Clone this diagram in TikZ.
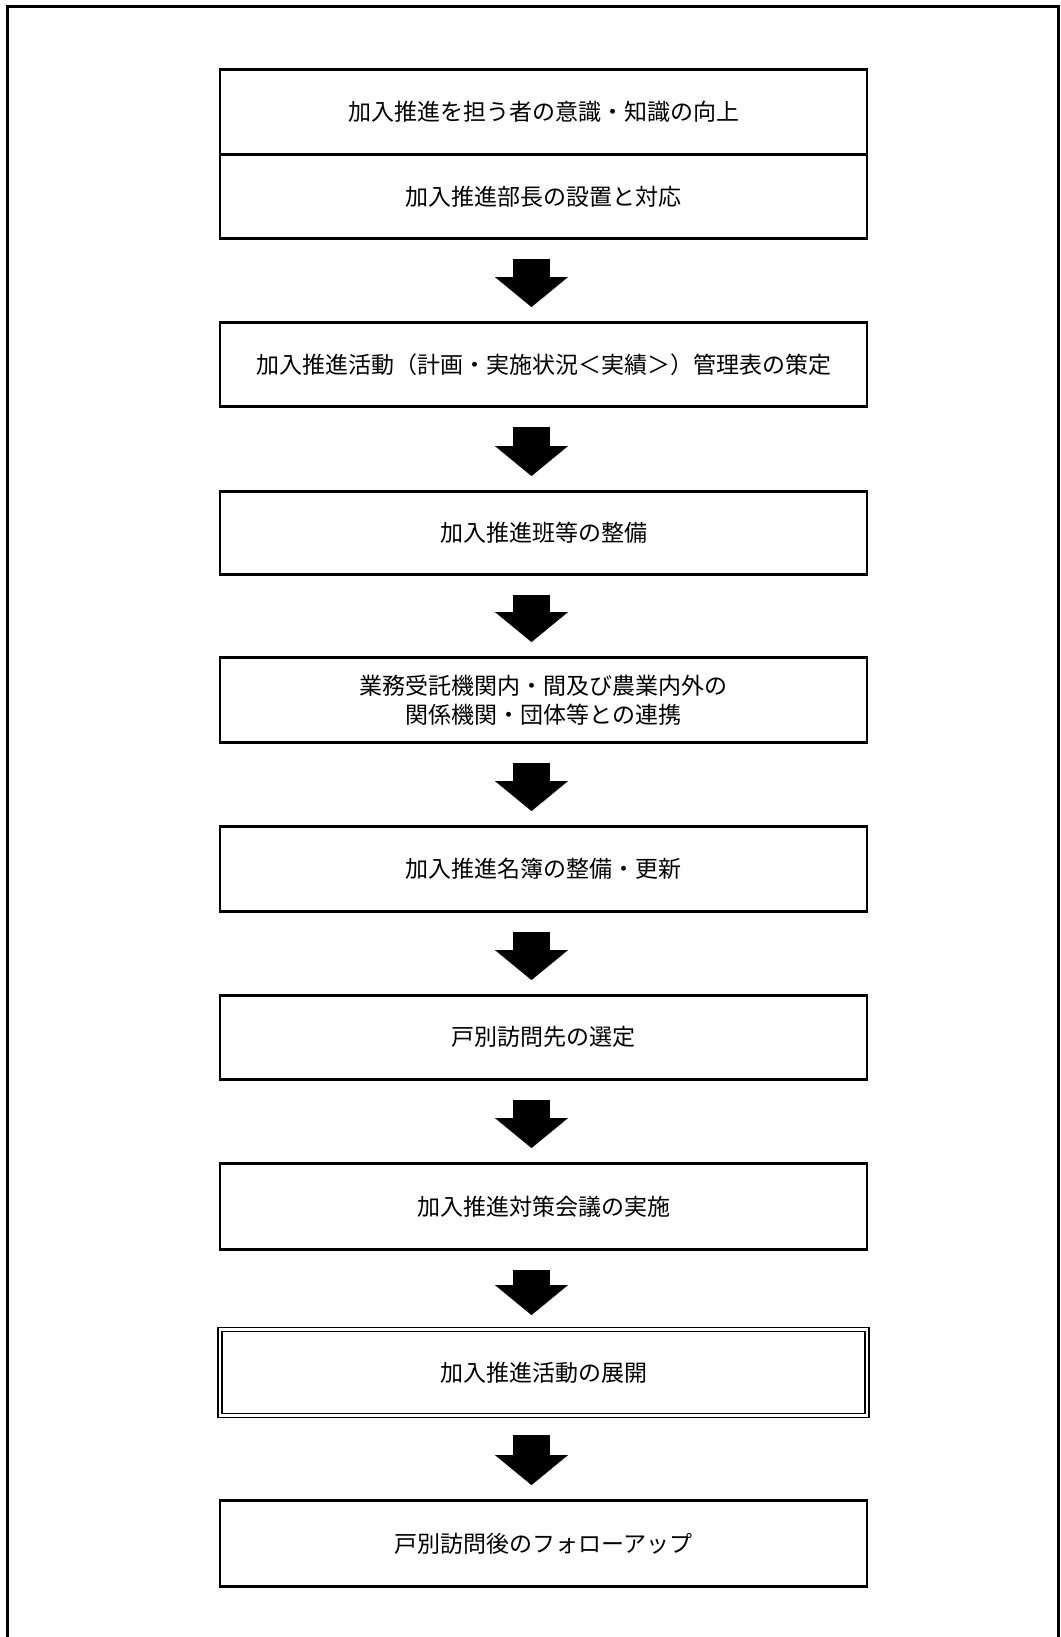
\documentclass[tikz,border=0pt]{standalone}
\usepackage{fontspec}
\newfontfamily\jp{Noto Sans CJK JP}
\usetikzlibrary{arrows.meta}
\begin{document}
\begin{tikzpicture}[x=1pt,y=-1pt,
  stepbox/.style={draw, line width=2.6pt, minimum width=647pt, inner sep=0pt,
    font=\jp\fontsize{23}{29}\selectfont, align=center, anchor=north},
  dblbox/.style={stepbox, line width=1.4pt, double, double distance=2.5pt},
  bigarrow/.style={line width=37pt, -{Triangle[width=73pt,length=30pt,line width=0.1pt]}}]
\useasboundingbox (0,0) rectangle (1060,1637);
\draw[line width=2.6pt] (7.5,1637) -- (7.5,6.5) -- (1058.5,6.5) -- (1058.5,1637);
\node[stepbox, minimum height=85pt] (b1) at (543.5,68) {加入推進を担う者の意識・知識の向上};
\node[stepbox, minimum height=84pt] (b2) at (543.5,153) {加入推進部長の設置と対応};
\node[stepbox, minimum height=84pt] (b3) at (543.5,321) {加入推進活動（計画・実施状況＜実績＞）管理表の策定};
\node[stepbox, minimum height=83pt] (b4) at (543.5,490) {加入推進班等の整備};
\node[stepbox, minimum height=85pt] (b5) at (543.5,656) {業務受託機関内・間及び農業内外の\\関係機関・団体等との連携};
\node[stepbox, minimum height=85pt] (b6) at (543.5,825) {加入推進名簿の整備・更新};
\node[stepbox, minimum height=84pt] (b7) at (543.5,994) {戸別訪問先の選定};
\node[stepbox, minimum height=86pt] (b8) at (543.5,1162) {加入推進対策会議の実施};
\node[dblbox, minimum height=86pt] (b9) at (543.5,1329) {加入推進活動の展開};
\node[stepbox, minimum height=86pt] (b10) at (543.5,1499) {戸別訪問後のフォローアップ};
\foreach \a/\b in {b2/b3,b3/b4,b4/b5,b5/b6,b6/b7,b7/b8,b8/b9,b9/b10}
  \draw[bigarrow] ([xshift=-12pt,yshift=-19pt]\a.south) -- ([xshift=-12pt,yshift=14pt]\b.north);
\end{tikzpicture}
\end{document}
